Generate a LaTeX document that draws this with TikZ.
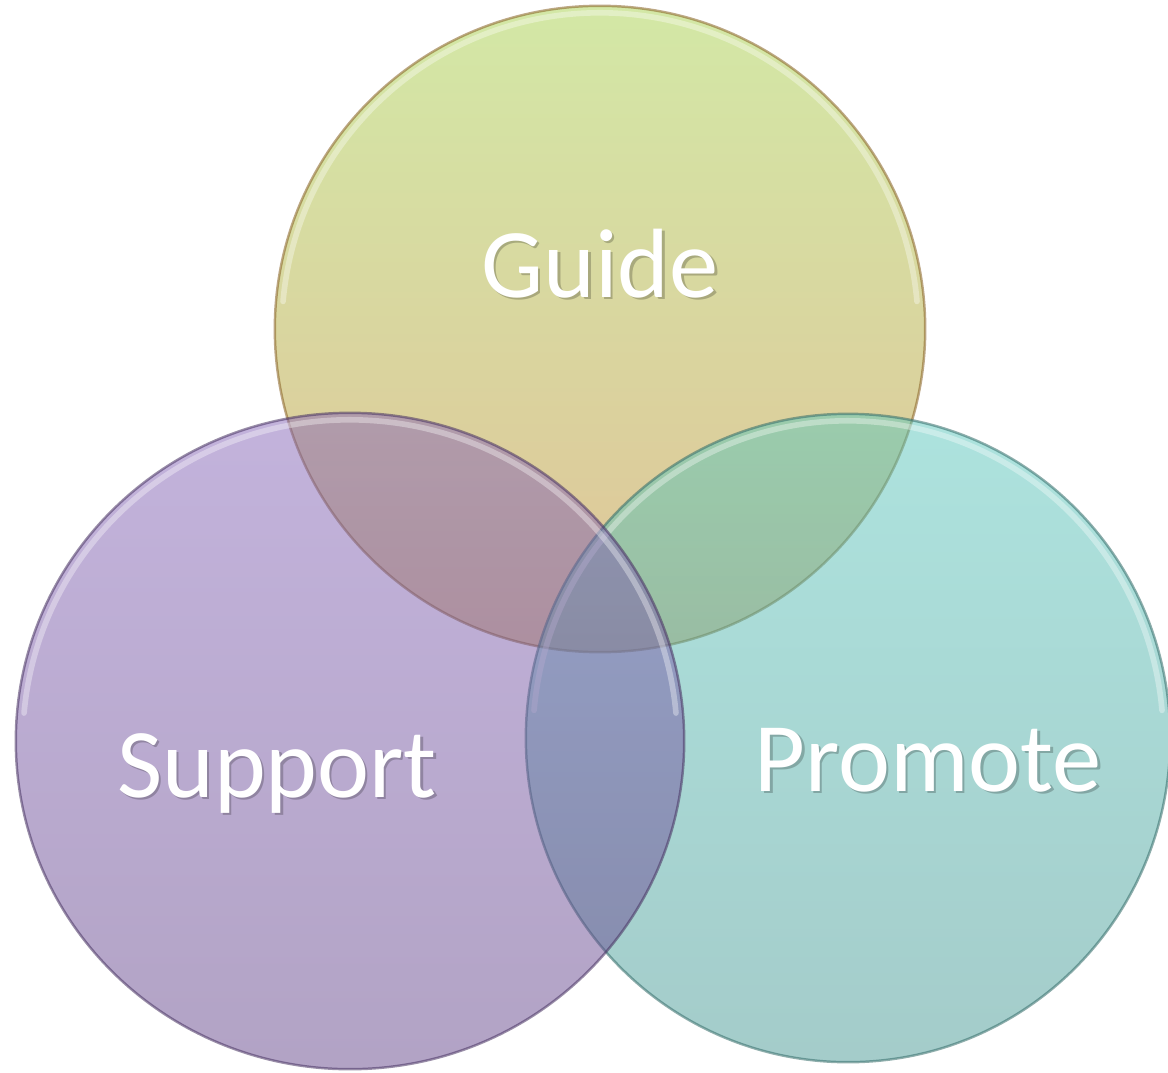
\documentclass[tikz,border=0pt]{standalone}
\usepackage{fontspec}
\setmainfont{Carlito}
\usepackage{tikz}
\usetikzlibrary{shapes.geometric,calc}
\definecolor{guidetop}{RGB}{167,209,77}
\definecolor{guidebot}{RGB}{193,137,50}
\definecolor{suptop}{RGB}{135,103,185}
\definecolor{supbot}{RGB}{101,71,139}
\definecolor{promtop}{RGB}{91,199,189}
\definecolor{prombot}{RGB}{73,153,149}

\begin{document}
\begin{tikzpicture}[x=0.01cm, y=0.01cm,
    disc/.style={ellipse, inner sep=0pt, fill opacity=0.5, draw opacity=0.55, line width=0.7pt},
    rim/.style={white, line width=1.6pt, opacity=0.35, line cap=round},
    lbl/.style={anchor=base, text=white, font=\fontsize{28}{34}\selectfont},
    shd/.style={anchor=base, text=black, text opacity=0.22, font=\fontsize{28}{34}\selectfont}
  ]
  \useasboundingbox (0,0) rectangle (1168,1072);

  % circles: Guide first, then Promote, Support on top
  \node[disc, minimum width=6.50cm, minimum height=6.46cm,
        top color=guidetop, bottom color=guidebot, draw=guidebot!70!black] (guide) at (600,743) {};
  \draw[rim] (guide.center) ++(175:3.18cm and 3.16cm)
        arc[start angle=175, end angle=5, x radius=3.18cm, y radius=3.16cm];

  \node[disc, minimum width=6.44cm, minimum height=6.48cm,
        top color=promtop, bottom color=prombot, draw=prombot!70!black] (promote) at (848,334) {};
  \draw[rim] (promote.center) ++(175:3.15cm and 3.17cm)
        arc[start angle=175, end angle=5, x radius=3.15cm, y radius=3.17cm];

  \node[disc, minimum width=6.68cm, minimum height=6.56cm,
        top color=suptop, bottom color=supbot, draw=supbot!70!black] (support) at (350,331) {};
  \draw[rim] (support.center) ++(175:3.27cm and 3.21cm)
        arc[start angle=175, end angle=5, x radius=3.27cm, y radius=3.21cm];

  % labels with soft shadow
  \node[shd] (guideshd)   at (602.5,772.5) {Guide};
  \node[lbl] (guidelbl)   at (600,775) {Guide};
  \node[shd] (supportshd) at (279.5,272.5) {Support};
  \node[lbl] (supportlbl) at (277,275) {Support};
  \node[shd] (promoteshd) at (930.5,278.5) {Promote};
  \node[lbl] (promotelbl) at (928,281) {Promote};
\end{tikzpicture}
\end{document}
